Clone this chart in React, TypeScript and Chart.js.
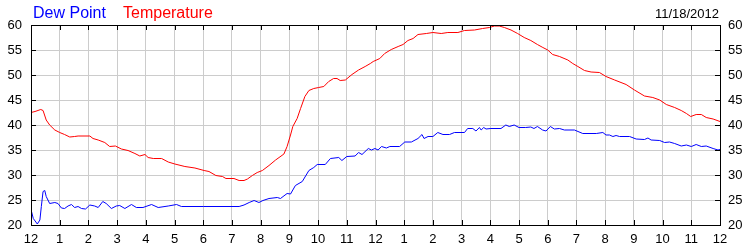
import React, { useEffect, useRef } from "react";
import { Chart, registerables } from "chart.js";

Chart.register(...registerables);

const xTickLabels = ["12","1","2","3","4","5","6","7","8","9","10","11","12","1","2","3","4","5","6","7","8","9","10","11","12"];
const yTicks = [20, 25, 30, 35, 40, 45, 50, 55, 60];
const seriesNames = ["Dew Point", "Temperature"];
const dateLabel = "11/18/2012";

const tempHours = [0,0.14,0.34,0.42,0.53,0.65,0.83,1.0,1.17,1.35,1.52,1.64,2.05,2.16,2.34,2.57,2.74,2.94,3.15,3.38,3.62,3.79,3.97,4.08,4.26,4.55,4.78,5.01,5.36,5.71,6.03,6.2,6.44,6.67,6.79,7.07,7.25,7.42,7.54,7.71,7.88,8.06,8.29,8.52,8.81,8.92,9.04,9.12,9.27,9.39,9.54,9.68,9.85,10.02,10.2,10.37,10.54,10.66,10.77,10.95,11.18,11.41,11.64,11.82,11.92,12.15,12.32,12.55,12.79,12.96,13.13,13.31,13.48,13.77,14.0,14.29,14.52,14.87,15.1,15.45,15.73,15.97,16.14,16.31,16.49,16.72,16.95,17.18,17.41,17.64,17.83,18.0,18.17,18.41,18.7,18.87,19.05,19.28,19.51,19.8,20.03,20.33,20.73,21.02,21.37,21.66,21.9,22.13,22.42,22.65,22.83,22.98,23.17,23.35,23.52,23.76,24];
const tempValues = [42.5,42.7,43.1,42.9,41,40,39,38.5,38.1,37.6,37.7,37.8,37.8,37.3,37,36.5,35.7,35.8,35.2,34.9,34.3,33.8,34.1,33.5,33.3,33.3,32.6,32.2,31.7,31.4,30.9,30.7,29.9,29.7,29.3,29.3,28.9,28.9,29.2,29.9,30.5,30.9,31.9,33,34.2,35.7,38,39.7,41.3,43.3,45.7,46.9,47.3,47.5,47.7,48.7,49.3,49.3,48.9,49,50.1,51,51.7,52.3,52.7,53.3,54.3,55.1,55.7,56.1,56.9,57.3,58.1,58.3,58.5,58.3,58.5,58.5,58.9,59,59.3,59.5,59.8,59.8,59.5,59,58.3,57.5,56.9,56.1,55.5,55,54.1,53.7,53,52.3,51.7,50.9,50.6,50.5,49.7,49,48.1,47,45.8,45.5,45,44.1,43.5,42.9,42.3,41.7,42.1,42.1,41.5,41.2,40.7];

const dewHours = [0,0.08,0.22,0.31,0.36,0.42,0.48,0.53,0.65,0.83,0.94,1.06,1.17,1.29,1.41,1.52,1.64,1.76,1.9,2.05,2.22,2.34,2.5,2.62,2.8,2.97,3.09,3.27,3.5,3.67,3.9,4.2,4.43,4.78,5.07,5.24,6.0,7.25,7.42,7.6,7.77,7.94,8.08,8.29,8.58,8.69,8.92,9.04,9.21,9.45,9.68,9.85,9.97,10.25,10.43,10.72,10.83,11.0,11.29,11.41,11.53,11.75,11.86,11.98,12.09,12.21,12.38,12.5,12.84,13.02,13.25,13.48,13.62,13.69,13.83,14.0,14.17,14.35,14.58,14.75,15.1,15.21,15.39,15.5,15.62,15.68,15.77,15.85,16.02,16.37,16.54,16.66,16.83,17.0,17.23,17.41,17.52,17.64,17.82,17.94,18.09,18.23,18.41,18.58,18.93,19.22,19.69,19.92,20.03,20.15,20.27,20.38,20.5,20.85,21.08,21.37,21.49,21.6,21.9,22.07,22.24,22.42,22.65,22.83,23.0,23.17,23.35,23.52,23.76,23.93,24];
const dewValues = [23.1,21.3,20.2,21,23.7,26.7,26.9,25.7,24.3,24.5,24.3,23.4,23.3,23.8,24.1,23.5,23.7,23.3,23.2,24,23.8,23.5,24.7,24.3,23.3,23.8,23.9,23.3,24.1,23.5,23.5,24.1,23.5,23.8,24.1,23.7,23.7,23.7,24,24.5,24.9,24.5,24.9,25.3,25.5,25.3,26.3,26.2,27.9,28.7,30.9,31.5,32.1,32.1,33.3,33.5,32.9,33.7,33.8,34.5,34.1,35.3,35,35.3,35,35.7,35.4,35.7,35.7,36.6,36.6,37.3,38.1,37.3,37.7,37.7,38.5,38.1,38.1,38.5,38.5,39.3,39.3,38.8,39.5,39,39.5,39.2,39.3,39.3,40,39.7,40,39.5,39.5,39.6,39.3,39.7,39,38.8,39.7,39.2,39.3,39,39,38.3,38.3,38.5,38,38,37.7,37.9,37.7,37.7,37.2,37.1,37.4,37,36.9,36.5,36.6,36.3,35.8,36,35.7,36.1,35.7,35.8,35.3,35,35.1];

const BLUE = "#0000ff";
const RED = "#ff0000";
const TEXT = "#000000";
const FONT = "Arial, 'Liberation Sans', sans-serif";

const framePlugin = {
  id: "frame",
  afterDraw(chart: any) {
    const { ctx, chartArea } = chart;
    const { left, right, top, bottom } = chartArea;
    const xs = chart.scales.x;
    const ys = chart.scales.y;
    ctx.save();
    ctx.strokeStyle = "#000000";
    ctx.lineWidth = 1;
    ctx.beginPath();
    // tick marks inside
    xs.ticks.forEach((t: any) => {
      const px = Math.round(xs.getPixelForValue(t.value)) + 0.5;
      ctx.moveTo(px, bottom);
      ctx.lineTo(px, bottom - 5);
      ctx.moveTo(px, top);
      ctx.lineTo(px, top + 5);
    });
    ys.ticks.forEach((t: any) => {
      const py = Math.round(ys.getPixelForValue(t.value)) + 0.5;
      ctx.moveTo(left, py);
      ctx.lineTo(left + 5, py);
      ctx.moveTo(right, py);
      ctx.lineTo(right - 5, py);
    });
    ctx.stroke();
    ctx.strokeRect(Math.round(left) + 0.5, Math.round(top) + 0.5, Math.round(right - left), Math.round(bottom - top));

    // header texts
    ctx.textBaseline = "alphabetic";
    ctx.font = `16px ${FONT}`;
    ctx.textAlign = "left";
    ctx.fillStyle = BLUE;
    ctx.fillText(seriesNames[0], 33, 18);
    ctx.fillStyle = RED;
    ctx.fillText(seriesNames[1], 123, 18);
    ctx.font = `13px ${FONT}`;
    ctx.fillStyle = TEXT;
    ctx.textAlign = "right";
    ctx.fillText(dateLabel, 719, 18);
    ctx.restore();
  },
};

export default function App() {
  const ref = useRef<HTMLCanvasElement>(null);
  useEffect(() => {
    if (!ref.current) return;
    const tickFont = { family: FONT, size: 13 };
    const chart = new Chart(ref.current, {
      type: "line",
      data: {
        datasets: [
          {
            label: seriesNames[0],
            data: dewHours.map((h, i) => ({ x: h, y: dewValues[i] })),
            borderColor: BLUE,
            borderWidth: 1,
            pointRadius: 0,
            tension: 0,
            yAxisID: "y",
          },
          {
            label: seriesNames[1],
            data: tempHours.map((h, i) => ({ x: h, y: tempValues[i] })),
            borderColor: RED,
            borderWidth: 1,
            pointRadius: 0,
            tension: 0,
            yAxisID: "y",
          },
        ],
      },
      options: {
        responsive: false,
        animation: false,
        devicePixelRatio: 1,
        layout: { padding: { top: 25, left: 0, right: 0, bottom: 0 } },
        plugins: { legend: { display: false }, title: { display: false }, tooltip: { enabled: false } },
        scales: {
          x: {
            type: "linear",
            min: 0,
            max: 24,
            afterFit: (s: any) => { s.height = 25; },
            afterBuildTicks: (s: any) => {
              s.ticks = xTickLabels.map((_, i) => ({ value: i }));
            },
            ticks: {
              autoSkip: false,
              maxRotation: 0,
              padding: 7,
              color: TEXT,
              font: tickFont,
              callback: (v: any) => xTickLabels[Math.round(v)] ?? "",
            },
            grid: { color: "#cccccc", drawTicks: false },
            border: { display: false },
          },
          y: {
            type: "linear",
            position: "left",
            min: 20,
            max: 60,
            afterFit: (s: any) => { s.width = 31; },
            afterBuildTicks: (s: any) => { s.ticks = yTicks.map((v) => ({ value: v })); },
            ticks: { padding: 9, color: TEXT, font: tickFont },
            grid: { color: "#cccccc", drawTicks: false },
            border: { display: false },
          },
          y2: {
            type: "linear",
            position: "right",
            min: 20,
            max: 60,
            afterFit: (s: any) => { s.width = 30; },
            afterBuildTicks: (s: any) => { s.ticks = yTicks.map((v) => ({ value: v })); },
            ticks: { padding: 8, color: TEXT, font: tickFont },
            grid: { drawOnChartArea: false, drawTicks: false },
            border: { display: false },
          },
        },
      },
      plugins: [framePlugin],
    } as any);
    return () => chart.destroy();
  }, []);
  return (
    <div style={{ position: "fixed", left: 0, top: 0, width: 750, height: 250, background: "#ffffff" }}>
      <canvas ref={ref} width={750} height={250} style={{ display: "block" }} />
    </div>
  );
}
